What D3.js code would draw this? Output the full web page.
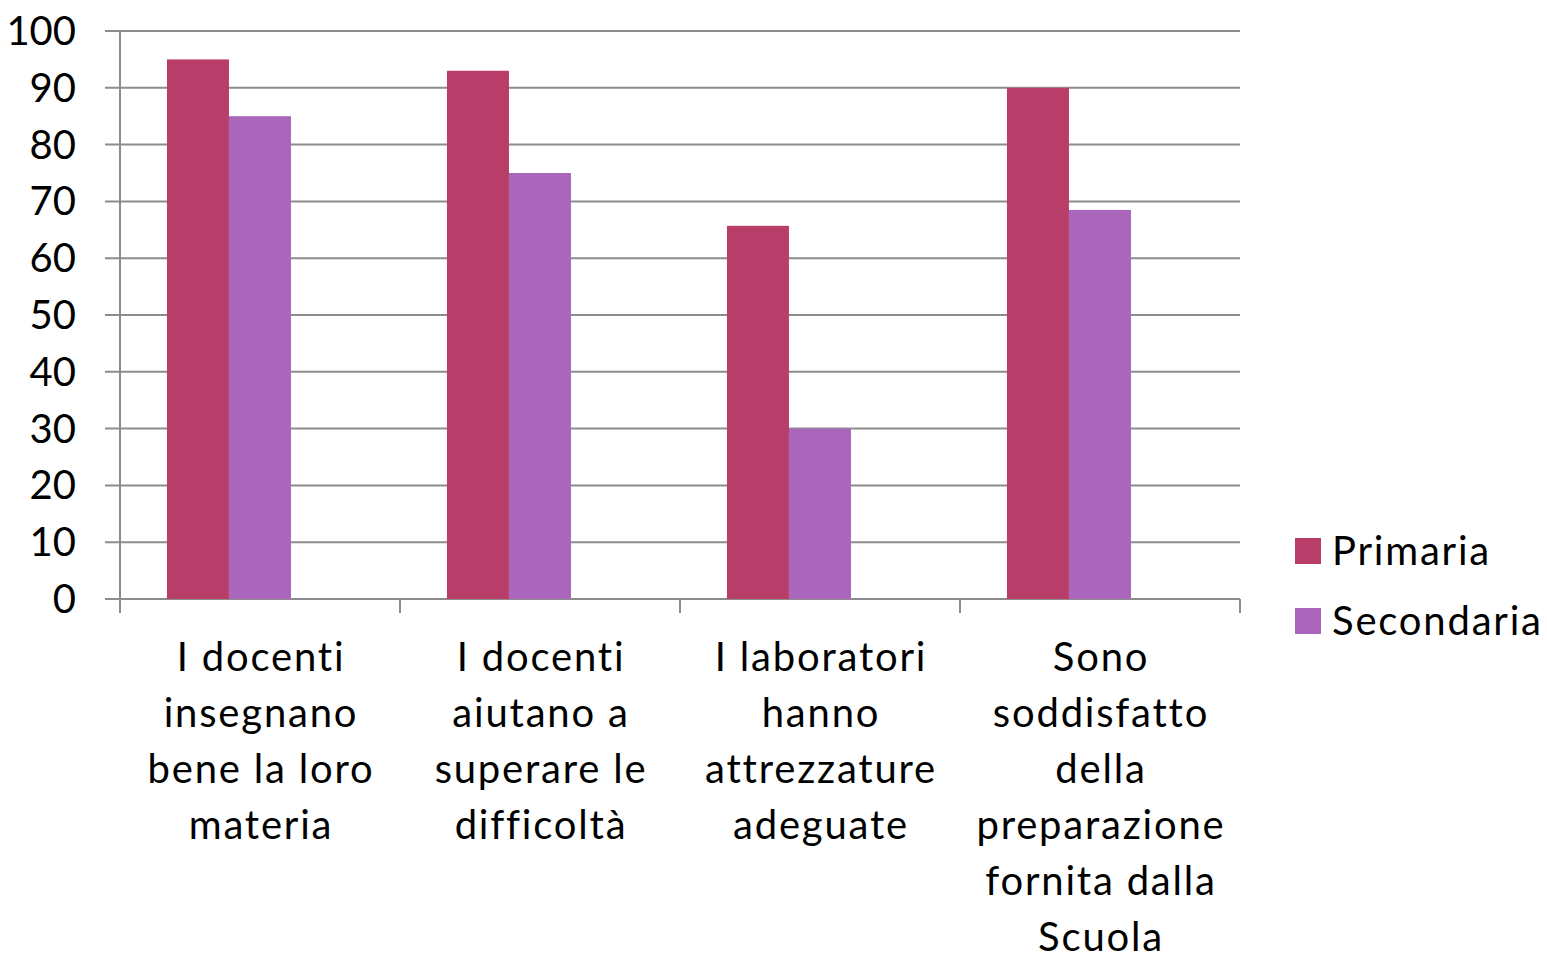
<!DOCTYPE html>
<html>
<head>
<meta charset="utf-8">
<script src="https://cdn.jsdelivr.net/npm/d3@7"></script>
<style>
  body { margin: 0; background: #fff; }
  text { font-family: "Lato", "Open Sans", sans-serif; fill: #000; }
</style>
</head>
<body>
<div id="container"></div>
<script>
// dati
const categories = [
  ["I docenti", "insegnano", "bene la loro", "materia"],
  ["I docenti", "aiutano a", "superare le", "difficoltà"],
  ["I laboratori", "hanno", "attrezzature", "adeguate"],
  ["Sono", "soddisfatto", "della", "preparazione", "fornita dalla", "Scuola"]
];
const seriesNames = ["Primaria", "Secondaria"];
const primaria = [95, 93, 65.7, 90];
const secondaria = [85, 75, 30, 68.5];
const yTicks = [0, 10, 20, 30, 40, 50, 60, 70, 80, 90, 100];
const colors = ["#B83D68", "#A966BB"];

// layout
const width = 1547, height = 956;
const plot = { left: 120, right: 1240, top: 31, bottom: 599 };

const svg = d3.select("#container").append("svg")
  .attr("width", width).attr("height", height);

const x0 = d3.scaleBand()
  .domain(d3.range(categories.length))
  .range([plot.left, plot.right]);
const x1 = d3.scaleBand()
  .domain(seriesNames)
  .range([0, x0.bandwidth()])
  .paddingOuter(1.258)
  .align(0.301);
const y = d3.scaleLinear().domain([0, 100]).range([plot.bottom, plot.top]);

// griglia + tick a sinistra
svg.append("g").selectAll("line")
  .data(yTicks).enter().append("line")
  .attr("x1", plot.left - 15).attr("x2", plot.right)
  .attr("y1", d => y(d)).attr("y2", d => y(d))
  .attr("stroke", "#8c8c8c").attr("stroke-width", 2);

// asse y
svg.append("line")
  .attr("x1", plot.left).attr("x2", plot.left)
  .attr("y1", plot.top).attr("y2", plot.bottom + 14)
  .attr("stroke", "#8c8c8c").attr("stroke-width", 2);

// tick asse x
svg.append("g").selectAll("line")
  .data(d3.range(categories.length + 1)).enter().append("line")
  .attr("x1", i => plot.left + i * x0.bandwidth())
  .attr("x2", i => plot.left + i * x0.bandwidth())
  .attr("y1", plot.bottom).attr("y2", plot.bottom + 14)
  .attr("stroke", "#8c8c8c").attr("stroke-width", 2);

// etichette y
svg.append("g").selectAll("text")
  .data(yTicks).enter().append("text")
  .attr("x", 76).attr("y", d => y(d))
  .attr("dy", "0.35em")
  .attr("text-anchor", "end")
  .style("font-size", "40px")
  .text(d => d);

// barre
const data = categories.map((c, i) => [primaria[i], secondaria[i]]);
const groups = svg.append("g").selectAll("g")
  .data(data).enter().append("g")
  .attr("transform", (d, i) => `translate(${x0(i)},0)`);
groups.selectAll("rect")
  .data(d => d.map((v, j) => ({ v, s: seriesNames[j], j })))
  .enter().append("rect")
  .attr("x", d => x1(d.s))
  .attr("width", x1.bandwidth())
  .attr("y", d => y(d.v))
  .attr("height", d => y(0) - y(d.v))
  .attr("fill", d => colors[d.j]);

// etichette categorie
const labels = svg.append("g").selectAll("text")
  .data(categories).enter().append("text")
  .attr("text-anchor", "middle")
  .style("font-size", "40px")
  .style("letter-spacing", "1.8px");
labels.selectAll("tspan")
  .data((d, i) => d.map(t => ({ t, i })))
  .enter().append("tspan")
  .attr("x", d => x0(d.i) + x0.bandwidth() / 2 + 1)
  .attr("y", (d, k) => 671 + k * 56)
  .text(d => d.t);

// legenda
const legend = svg.append("g").selectAll("g")
  .data(seriesNames).enter().append("g")
  .attr("transform", (d, i) => `translate(1295,${538 + i * 70})`);
legend.append("rect")
  .attr("width", 26).attr("height", 26)
  .attr("fill", (d, i) => colors[i]);
legend.append("text")
  .attr("x", 37).attr("y", 13).attr("dy", "0.35em")
  .style("font-size", "40px")
  .style("letter-spacing", "1.8px")
  .text(d => d);
</script>
</body>
</html>
